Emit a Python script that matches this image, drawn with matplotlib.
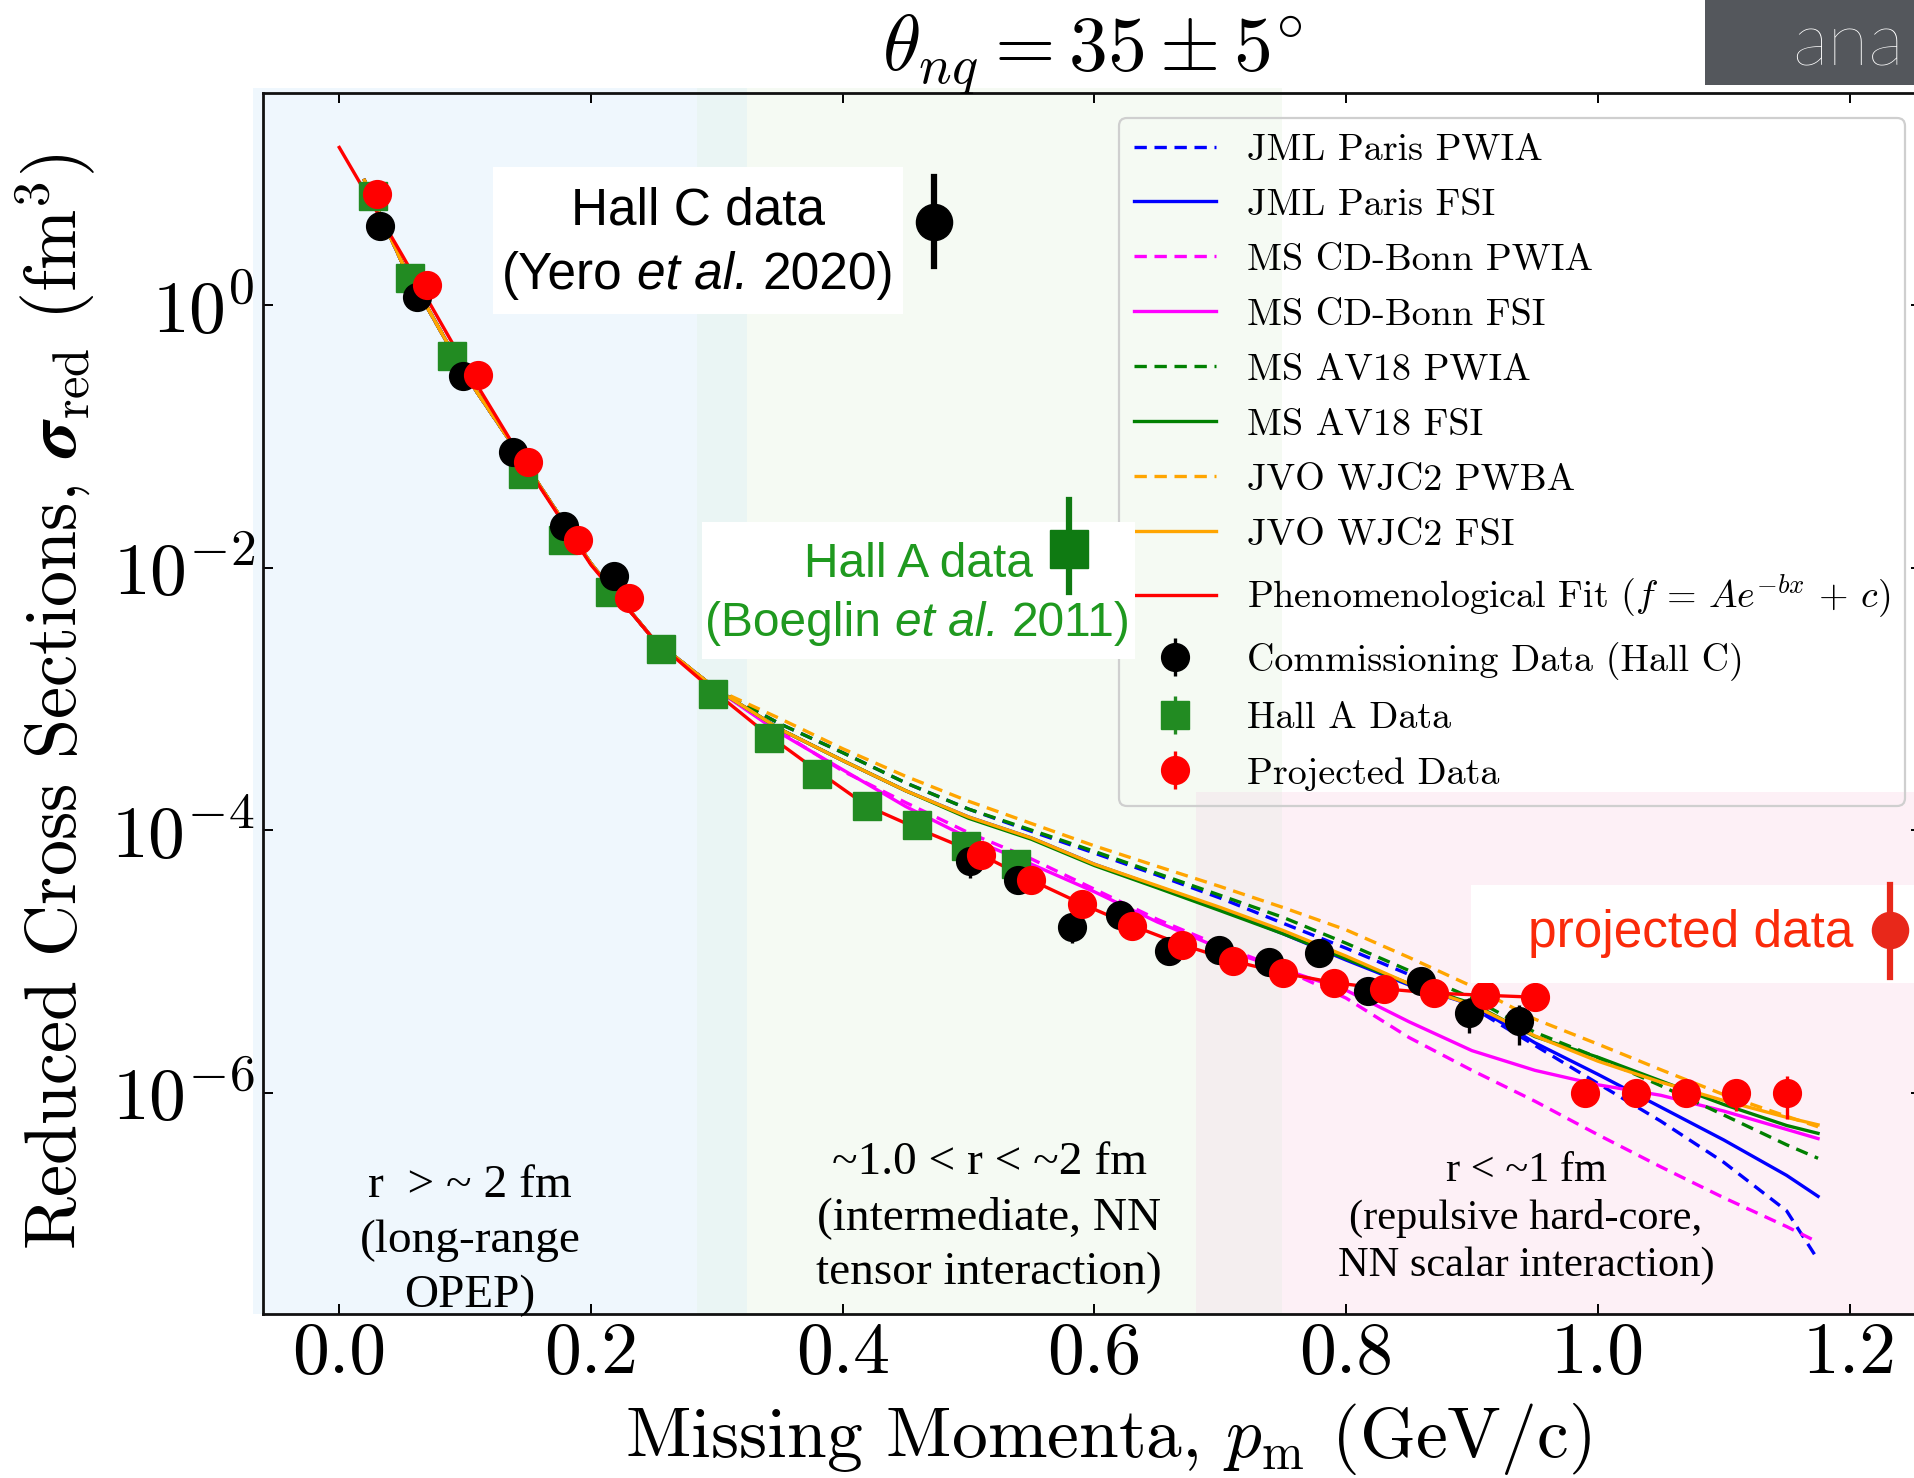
import numpy as np
import matplotlib
matplotlib.use("Agg")
import matplotlib.pyplot as plt
from matplotlib.patches import Rectangle
from matplotlib.lines import Line2D
from matplotlib.transforms import blended_transform_factory
from matplotlib.ticker import FixedLocator, NullLocator, LogFormatterSciNotation, FormatStrFormatter

plt.rcParams.update({
    "font.family": "serif",
    "font.serif": ["cmr10"],
    "mathtext.fontset": "cm",
    "axes.formatter.use_mathtext": True,
    "axes.unicode_minus": False,
})

# ---------------- data (log10 of reduced cross section, fm^3) ----------------
theory_p = [0.02, 0.05, 0.10, 0.15, 0.20, 0.25, 0.30, 0.35, 0.40, 0.45, 0.50, 0.55,
            0.60, 0.65, 0.70, 0.75, 0.80, 0.85, 0.90, 0.95, 1.00, 1.05, 1.10, 1.15, 1.175]
common_low = [0.95, 0.32, -0.53, -1.24, -1.97, -2.55, -2.93]
jml_paris_pwia = common_low + [-3.19, -3.41, -3.64, -3.84, -4.01, -4.175, -4.343, -4.518, -4.71,
                               -4.90, -5.10, -5.35, -5.64, -5.93, -6.217, -6.53, -6.90, -7.274]
jml_paris_fsi = common_low + [-3.23, -3.47, -3.70, -3.90, -4.06, -4.26, -4.43, -4.60, -4.79,
                              -4.99, -5.18, -5.33, -5.62, -5.86, -6.11, -6.36, -6.63, -6.79]
ms_cdbonn_pwia = common_low + [-3.25, -3.55, -3.79, -4.02, -4.22, -4.45, -4.68, -4.88, -5.06,
                               -5.28, -5.58, -5.83, -6.065, -6.32, -6.565, -6.80, -7.02, -7.14]
ms_cdbonn_fsi = common_low + [-3.26, -3.54, -3.82, -4.06, -4.26, -4.47, -4.70, -4.90, -5.06,
                              -5.22, -5.46, -5.68, -5.83, -5.94, -6.02, -6.14, -6.28, -6.35]
ms_av18_pwia = common_low + [-3.19, -3.41, -3.64, -3.84, -4.00, -4.162, -4.33, -4.497, -4.665,
                             -4.862, -5.07, -5.28, -5.54, -5.733, -5.947, -6.17, -6.397, -6.50]
ms_av18_fsi = common_low + [-3.23, -3.47, -3.70, -3.91, -4.07, -4.27, -4.44, -4.614, -4.79,
                            -4.98, -5.17, -5.32, -5.573, -5.73, -5.91, -6.09, -6.25, -6.31]
jvo_wjc2_pwba = common_low + [-3.15, -3.38, -3.59, -3.78, -3.95, -4.12, -4.276, -4.43, -4.59,
                              -4.76, -4.97, -5.19, -5.44, -5.63, -5.825, -6.015, -6.18, -6.26]
jvo_wjc2_fsi = common_low + [-3.23, -3.47, -3.70, -3.90, -4.06, -4.26, -4.424, -4.589, -4.765,
                             -4.96, -5.17, -5.33, -5.568, -5.76, -5.92, -6.06, -6.188, -6.245]

fit_p = [0.0, 0.05, 0.10, 0.15, 0.20, 0.25, 0.30, 0.34, 0.38, 0.42, 0.46, 0.51, 0.55, 0.59,
         0.63, 0.67, 0.71, 0.75, 0.79, 0.83, 0.87, 0.91, 0.95]
fit_log = [1.20, 0.38, -0.46, -1.25, -1.98, -2.55, -2.96, -3.27, -3.55, -3.82, -3.99, -4.189,
           -4.382, -4.562, -4.727, -4.874, -4.996, -5.090, -5.161, -5.209, -5.242, -5.258, -5.273]

hallc_p = [0.032, 0.062, 0.0985, 0.138, 0.1784, 0.218, 0.501, 0.539, 0.582, 0.620, 0.659,
           0.699, 0.739, 0.7785, 0.8177, 0.8598, 0.8975, 0.9374]
hallc_log = [0.604, 0.063, -0.541, -1.117, -1.686, -2.062, -4.235, -4.379, -4.735, -4.646,
             -4.918, -4.912, -5.001, -4.938, -5.222, -5.148, -5.390, -5.458]
hallc_relerr = [0.03, 0.03, 0.04, 0.05, 0.05, 0.06, 0.26, 0.20, 0.25, 0.12, 0.12,
                0.12, 0.12, 0.12, 0.23, 0.15, 0.30, 0.34]

halla_p = [0.0265, 0.0565, 0.0896, 0.1456, 0.1774, 0.2153, 0.2556, 0.2967, 0.3418, 0.3797,
           0.4193, 0.4590, 0.4978, 0.5380]
halla_log = [0.833, 0.204, -0.388, -1.290, -1.790, -2.185, -2.620, -2.960, -3.300, -3.575,
             -3.818, -3.963, -4.122, -4.257]
halla_relerr = [0.05, 0.05, 0.05, 0.05, 0.05, 0.05, 0.05, 0.06, 0.06, 0.06, 0.08, 0.08, 0.10, 0.10]

proj_p = [0.03, 0.07, 0.11, 0.15, 0.19, 0.23, 0.51, 0.55, 0.59, 0.63, 0.67, 0.71, 0.75,
          0.79, 0.83, 0.87, 0.91, 0.95, 0.99, 1.03, 1.07, 1.11, 1.15]
proj_log = [0.845, 0.152, -0.533, -1.198, -1.787, -2.232, -4.189, -4.382, -4.562, -4.727,
            -4.874, -4.996, -5.090, -5.161, -5.209, -5.242, -5.258, -5.273, -6.004, -6.004,
            -6.004, -6.000, -6.004]
proj_relerr = [0.02, 0.02, 0.02, 0.02, 0.02, 0.02, 0.05, 0.05, 0.05, 0.05, 0.05, 0.05, 0.05,
               0.06, 0.06, 0.07, 0.07, 0.08, 0.10, 0.12, 0.15, 0.28, 0.36]

pm_ticks = [0.0, 0.2, 0.4, 0.6, 0.8, 1.0, 1.2]
sigma_ticks = [1e0, 1e-2, 1e-4, 1e-6]

# ---------------- figure ----------------
W, H = 1914, 1478
fig = plt.figure(figsize=(W / 100, H / 100), dpi=100)
fig.patch.set_facecolor("white")
ax = fig.add_axes([263 / W, 1 - 1314 / H, (1921 - 263) / W, (1314 - 92.7) / H])
ax.set_facecolor("white")
ax.set_yscale("log")

# background region bands
btr = blended_transform_factory(ax.transData, ax.transAxes)
def band(x0, x1, y0, y1, color, clip=True):
    ax.add_patch(Rectangle((x0, y0), x1 - x0, y1 - y0, transform=btr, facecolor=color,
                           edgecolor="none", zorder=0, clip_on=clip))
band(-0.0686, 0.2845, 0.0, 1.004, "#eff7fd", clip=False)
band(0.2845, 0.3237, 0.0, 1.004, "#eaf5f4", clip=False)
band(0.3237, 0.7493, 0.0, 1.004, "#f5faf3", clip=False)
band(0.6805, 0.7493, 0.0, 0.4274, "#f4eeef")
band(0.7493, 1.40, 0.0, 0.4274, "#fdf0f6")

lw = 2.4
dash = (0, (3.7, 2.3))
curves = [
    ("JML Paris PWIA", jml_paris_pwia, "blue", dash),
    ("JML Paris FSI", jml_paris_fsi, "blue", "-"),
    ("MS CD-Bonn PWIA", ms_cdbonn_pwia, "magenta", dash),
    ("MS CD-Bonn FSI", ms_cdbonn_fsi, "magenta", "-"),
    ("MS AV18 PWIA", ms_av18_pwia, "green", dash),
    ("MS AV18 FSI", ms_av18_fsi, "green", "-"),
    ("JVO WJC2 PWBA", jvo_wjc2_pwba, "orange", dash),
    ("JVO WJC2 FSI", jvo_wjc2_fsi, "orange", "-"),
]
handles = []
for label, vals, color, ls in curves:
    h, = ax.plot(theory_p, np.power(10.0, vals), color=color, ls=ls, lw=lw, label=label, zorder=2)
    handles.append(h)

h, = ax.plot(fit_p, np.power(10.0, fit_log), color="red", lw=lw,
             label=r"Phenomenological Fit $(f\,=\,Ae^{-bx}\,+\,c)$", zorder=2.5)
handles.append(h)

ms = 20
hc_y = np.power(10.0, hallc_log)
hc = ax.errorbar(hallc_p, hc_y, yerr=hc_y * np.array(hallc_relerr), fmt="o", color="black",
                 ms=ms, elinewidth=2.4, capsize=0, zorder=4, label="Commissioning Data (Hall C)")
ha_y = np.power(10.0, halla_log)
ha = ax.errorbar(halla_p, ha_y, yerr=ha_y * np.array(halla_relerr), fmt="s", color="#228b22",
                 ms=ms, elinewidth=2.4, capsize=0, zorder=3, label="Hall A Data")
pr_y = np.power(10.0, proj_log)
pr = ax.errorbar(proj_p, pr_y, yerr=pr_y * np.array(proj_relerr), fmt="o", color="red",
                 ms=ms, elinewidth=2.4, capsize=0, zorder=5, label="Projected Data")
handles += [hc, ha, pr]

ax.set_xlim(-0.0606, 1.2568)
ax.set_ylim(2.06e-8, 41.4)

ax.xaxis.set_major_locator(FixedLocator(pm_ticks))
ax.xaxis.set_major_formatter(FormatStrFormatter("%.1f"))
ax.yaxis.set_major_locator(FixedLocator(sigma_ticks))
ax.yaxis.set_major_formatter(LogFormatterSciNotation())
ax.yaxis.set_minor_locator(NullLocator())
ax.xaxis.set_minor_locator(NullLocator())
ax.tick_params(which="major", direction="in", top=True, right=True, length=7.4, width=1.4,
               labelsize=53)
ax.tick_params(axis="x", pad=5.5)
ax.tick_params(axis="y", pad=6)
for s in ax.spines.values():
    s.set_linewidth(2.0)
    s.set_color("#111111")

ax.set_xlabel(r"Missing Momenta, $p_{\rm m}$ (GeV/c)", fontsize=51.5)
ax.xaxis.set_label_coords(0.5097, -0.0712)
ax.set_ylabel(r"Reduced Cross Sections, $\boldsymbol{\sigma}_{\rm red}$ $({\rm fm}^3)$", fontsize=52)
ax.yaxis.set_label_coords(-0.0995, 0.501)
ax.set_title(r"$\theta_{nq} = 35 \pm 5^{\circ}$", fontsize=56, pad=15.6)

leg = ax.legend(handles=handles, loc="upper right", bbox_to_anchor=(1905 / W, 1 - 118 / H),
                bbox_transform=fig.transFigure, borderaxespad=0, fontsize=27.4, handlelength=2.15,
                handletextpad=0.8, labelspacing=0.56, borderpad=0.4, fancybox=True)
frame = leg.get_frame()
frame.set_alpha(None)
frame.set_facecolor((1, 1, 1, 0))
frame.set_edgecolor("#cfcfcf")
frame.set_linewidth(1.6)

# region descriptions
region_font = dict(family="Liberation Serif", ha="center", va="center", color="black", zorder=6)
fig.text(470 / W, 1 - 1241 / H, "r  > ~ 2 fm\n(long-range\nOPEP)", fontsize=34,
         linespacing=1.38, **region_font)
fig.text(989 / W, 1 - 1218 / H, "~1.0 < r < ~2 fm\n(intermediate, NN\ntensor interaction)",
         fontsize=34, linespacing=1.37, **region_font)
fig.text(1526 / W, 1 - 1218 / H, "r < ~1 fm\n(repulsive hard-core,\nNN scalar interaction)",
         fontsize=30.5, linespacing=1.29, **region_font)

# annotation boxes
def white_box(x0, y0, x1, y1):
    fig.add_artist(Rectangle((x0 / W, 1 - y1 / H), (x1 - x0) / W, (y1 - y0) / H,
                             transform=fig.transFigure, facecolor="white", edgecolor="none",
                             zorder=5))

def marker_bar(xc, yc, y0, y1, marker, color, msize):
    fig.add_artist(Line2D([xc / W, xc / W], [1 - y0 / H, 1 - y1 / H], transform=fig.transFigure,
                          color=color, lw=4.5, zorder=6))
    fig.add_artist(Line2D([xc / W], [1 - yc / H], transform=fig.transFigure, marker=marker,
                          ms=msize, color=color, lw=0, zorder=6))

renderer = fig.canvas.get_renderer()

def mixed_line(xc, yc, parts, color, size):
    """Centered single line built from pieces in upright / italic style."""
    space = 0.278 * size * 100 / 72
    texts, widths = [], []
    for s, style in parts:
        t = fig.text(0, 1 - yc / H, s, family="Liberation Sans", style=style, fontsize=size,
                     color=color, ha="left", va="center", zorder=7)
        texts.append(t)
        widths.append(t.get_window_extent(renderer).width)
    total = sum(widths) + space * (len(parts) - 1)
    x = xc - total / 2
    for t, w in zip(texts, widths):
        t.set_x(x / W)
        x += w + space

sans = dict(family="Liberation Sans", ha="center", va="center", zorder=7)

white_box(493, 167, 903, 314)
fig.text(698 / W, 1 - 211 / H, "Hall C data", color="black", fontsize=37, **sans)
mixed_line(698, 275, [("(Yero", "normal"), ("et al.", "italic"), ("2020)", "normal")], "black", 37)
marker_bar(934, 222, 177, 266, "o", "black", 26)

white_box(702, 522, 1135, 659)
fig.text(918 / W, 1 - 564 / H, "Hall A data", color="#1f991f", fontsize=34.5, **sans)
mixed_line(918, 623, [("(Boeglin", "normal"), ("et al.", "italic"), ("2011)", "normal")],
           "#1f991f", 34.5)
marker_bar(1069, 549, 500, 592, "s", "#0f7a12", 28)

white_box(1471, 885, 1920, 983)
fig.text(1691 / W, 1 - 934 / H, "projected data", color="#fa2a0a", fontsize=37, **sans)
marker_bar(1890, 930, 885, 977, "o", "#e8281a", 26)

# slide header fragment at top right
fig.add_artist(Rectangle((1705 / W, 1 - 85 / H), 0.12, 85 / H + 0.01, transform=fig.transFigure,
                         facecolor="#54575c", edgecolor="none", zorder=5))
fig.text(1792 / W, 1 - 45 / H, "ana", color="white", family="Lato", fontweight="light",
         fontsize=54, ha="left", va="center", zorder=6)

fig.savefig("out.png", dpi=100)
